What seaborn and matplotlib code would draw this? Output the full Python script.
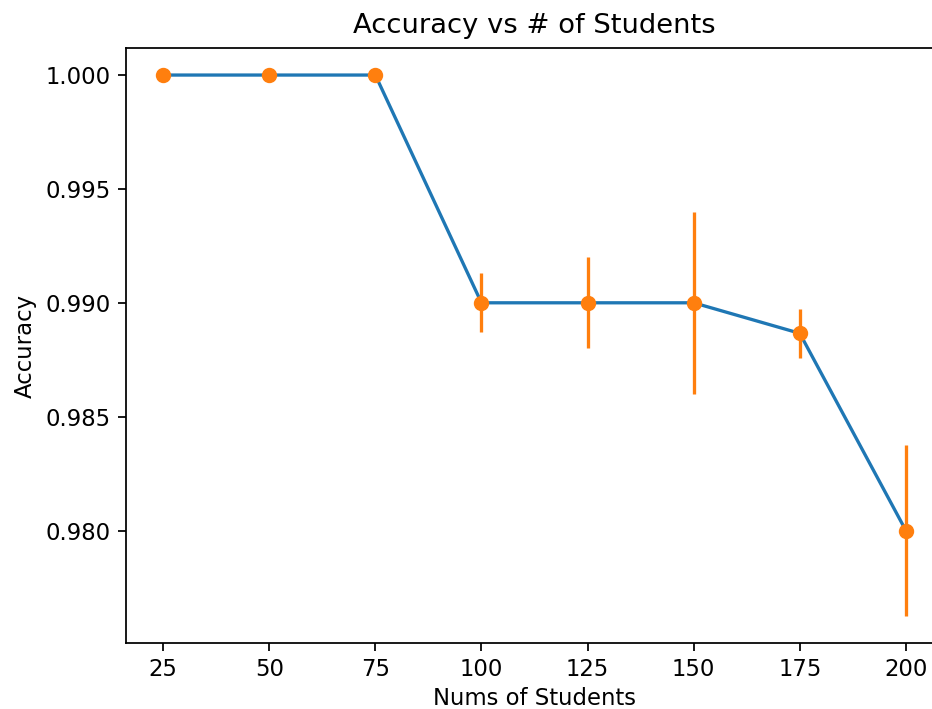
import matplotlib
matplotlib.use("Agg")
import matplotlib.pyplot as plt
import seaborn as sns
import pandas as pd

# Number of students per run and the resulting accuracy (mean ± std)
num_students = [25, 50, 75, 100, 125, 150, 175, 200]
accuracy_mean = [1.000, 1.000, 1.000, 0.990, 0.990, 0.990, 0.98866, 0.980]
accuracy_std = [0.0, 0.0, 0.0, 0.0013, 0.0020, 0.0040, 0.00107, 0.00375]

df = pd.DataFrame({"students": num_students,
                   "acc": accuracy_mean,
                   "std": accuracy_std})

plt.rcParams["font.size"] = 10.4

dpi = 158
fig = plt.figure(figsize=(932 / dpi, 709 / dpi), dpi=dpi)
ax = fig.add_axes([0.1352, 0.0931, 0.8766, 0.8392])

palette = sns.color_palette("tab10")

# Mean accuracy line
sns.lineplot(data=df, x="students", y="acc", ax=ax, color=palette[0],
             linewidth=1.5, errorbar=None)

# Points with their spread
ax.errorbar(df["students"], df["acc"], yerr=df["std"], fmt="o",
            color=palette[1], markersize=6, elinewidth=1.5)

ax.spines["right"].set_visible(False)
ax.set_xticks(num_students)
ax.set_title("Accuracy vs # of Students", pad=7)
ax.set_xlabel("Nums of Students", labelpad=2.5)
ax.set_ylabel("Accuracy")

fig.savefig("out.png", dpi=dpi)
